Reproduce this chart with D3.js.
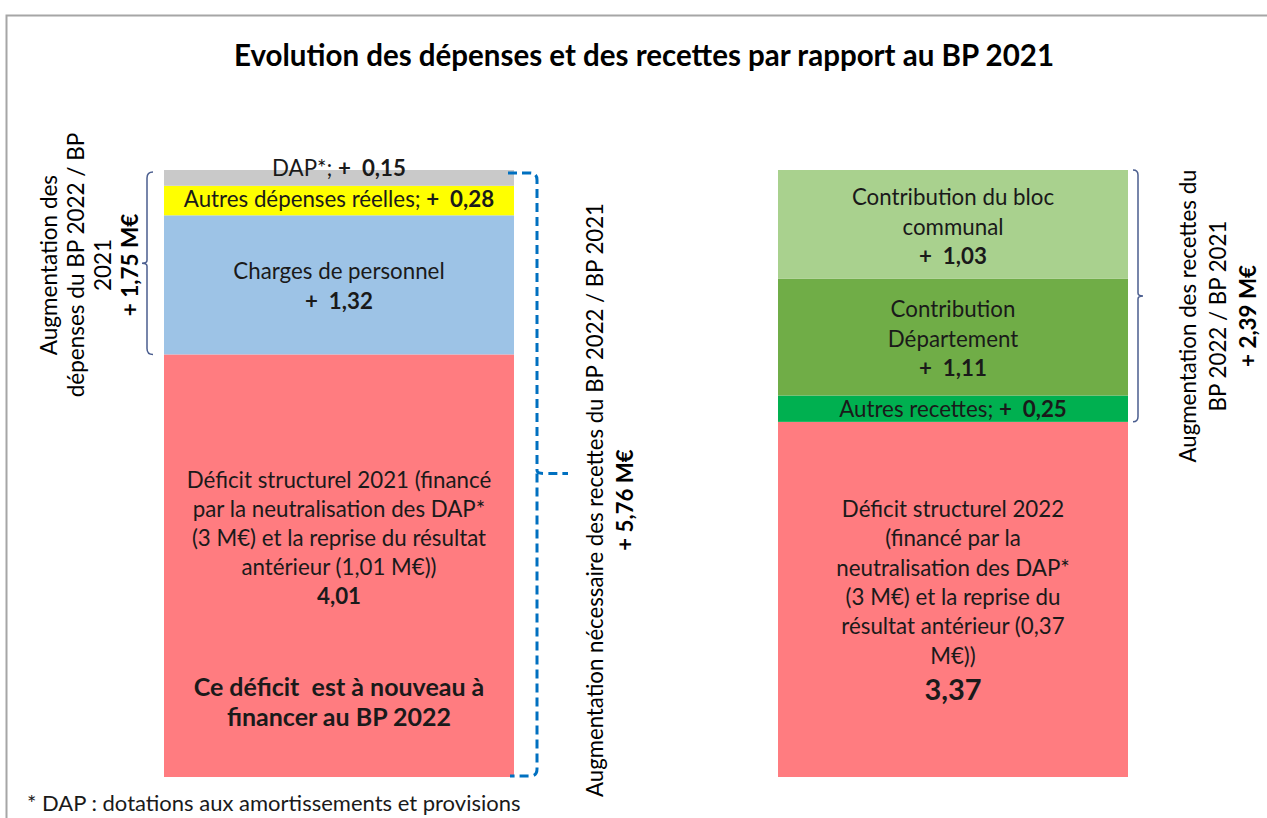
<!DOCTYPE html>
<html><head><meta charset="utf-8">
<script src="https://cdn.jsdelivr.net/npm/d3@7"></script>
<style>body{margin:0;background:#fff}svg{display:block}</style>
</head><body>
<svg id="c" width="1267" height="818"></svg>
<script>
// ---- data ----
const categories = ["Dépenses", "Recettes"];
const depensesNames = ["Déficit structurel 2021", "Charges de personnel", "Autres dépenses réelles", "DAP*"];
const depensesValues = [4.01, 1.32, 0.28, 0.15];
const recettesNames = ["Déficit structurel 2022", "Autres recettes", "Contribution Département", "Contribution du bloc communal"];
const recettesValues = [3.37, 0.25, 1.11, 1.03];
const depensesColors = ["#FF7C80", "#9DC3E6", "#FFFF00", "#C9C9C9"];
const recettesColors = ["#FF7C80", "#00B050", "#70AD47", "#A9D18E"];
const title = "Evolution des dépenses et des recettes par rapport  au BP 2021";
const footnote = "* DAP : dotations aux amortissements et provisions";
const depensesTotalLabel = ["Augmentation des", "dépenses du BP 2022 / BP", "2021"];
const depensesTotalValue = "+ 1,75 M€";
const besoinLabel = "Augmentation nécessaire des recettes du BP 2022 / BP 2021";
const besoinValue = "+ 5,76 M€";
const recettesTotalLabel = ["Augmentation des recettes du", "BP 2022 / BP 2021"];
const recettesTotalValue = "+ 2,39 M€";

const svg = d3.select("#c");
const FONT = "Lato, 'Open Sans', sans-serif";
const FS = 22.3;

// frame
svg.append("path").attr("d", "M6.5,818 V15.5 H1267").attr("fill", "none").attr("stroke", "#A6A6A6").attr("stroke-width", 2);

svg.append("text").attr("x", 644).attr("y", 66).attr("text-anchor", "middle")
  .attr("font-family", FONT).attr("font-weight", "bold").attr("font-size", 29.5).attr("fill", "#000").text(title);

const total = d3.sum(depensesValues);
const y = d3.scaleLinear().domain([0, total]).range([777, 170]);
const x = d3.scaleBand().domain(categories).range([164, 1128]).paddingInner(0.43).paddingOuter(0);

function stack(vals) { let c = 0; return vals.map(v => { const s = c; c += v; return [s, c]; }); }
const depS = stack(depensesValues), recS = stack(recettesValues);

const g = svg.append("g");
g.selectAll("rect.dep").data(depensesValues).join("rect")
  .attr("x", x("Dépenses")).attr("width", x.bandwidth())
  .attr("y", (d, i) => y(depS[i][1])).attr("height", (d, i) => y(depS[i][0]) - y(depS[i][1]))
  .attr("fill", (d, i) => depensesColors[i]);
g.selectAll("rect.rec").data(recettesValues).join("rect")
  .attr("x", x("Recettes")).attr("width", x.bandwidth())
  .attr("y", (d, i) => y(recS[i][1])).attr("height", (d, i) => y(recS[i][0]) - y(recS[i][1]))
  .attr("fill", (d, i) => recettesColors[i]);

const fmt = v => d3.format(".2f")(v).replace(".", ",");
const cxL = x("Dépenses") + x.bandwidth() / 2, cxR = x("Recettes") + x.bandwidth() / 2;

function label(cx, cyTop, lines, lh) {
  const t = svg.append("text").attr("font-family", FONT).attr("text-anchor", "middle").attr("fill", "#1a1a1a");
  lines.forEach((ln, k) => {
    const row = t.append("tspan").attr("x", cx).attr("y", cyTop + k * lh);
    const parts = Array.isArray(ln) ? ln : [ln];
    parts.forEach((p, j) => {
      const sp = j === 0 ? row : t.append("tspan");
      sp.attr("font-size", p.size || FS).attr("font-weight", p.bold ? "bold" : "normal").text(p.t);
    });
  });
  t.attr("xml:space", "preserve").style("white-space", "pre");
}

// Dépenses
label(cxL, 176, [[{t: "DAP*; "}, {t: "+  " + fmt(depensesValues[3]), bold: true}]], 29);
label(cxL, 207, [[{t: "Autres dépenses réelles; "}, {t: "+  " + fmt(depensesValues[2]), bold: true}]], 29);
label(cxL, 279, [{t: "Charges de personnel"}, {t: "+  " + fmt(depensesValues[1]), bold: true}], 30);
label(cxL, 488, [{t: "Déficit structurel 2021 (financé"}, {t: "par la neutralisation des DAP*"},
  {t: "(3 M€) et la reprise du résultat"}, {t: "antérieur (1,01 M€))"}, {t: fmt(depensesValues[0]), bold: true}], 29);
label(cxL, 696, [{t: "Ce déficit  est à nouveau à", bold: true, size: 25}, {t: "financer au BP 2022", bold: true, size: 25}], 30);

// Recettes
label(cxR, 205, [{t: "Contribution du bloc"}, {t: "communal"}, {t: "+  " + fmt(recettesValues[3]), bold: true}], 29.5);
label(cxR, 317, [{t: "Contribution"}, {t: "Département"}, {t: "+  " + fmt(recettesValues[2]), bold: true}], 29.5);
label(cxR, 417, [[{t: "Autres recettes; "}, {t: "+  " + fmt(recettesValues[1]), bold: true}]], 29);
label(cxR, 517, [{t: "Déficit structurel 2022"}, {t: "(financé par la"}, {t: "neutralisation des DAP*"},
  {t: "(3 M€) et la reprise du"}, {t: "résultat antérieur (0,37"}, {t: "M€))"}], 29.3);
label(cxR, 700, [{t: fmt(recettesValues[0]), bold: true, size: 29}], 30);

// braces
const BR = "#4B5E8F";
function brace(xv, y0, y1, dir, tipLen, r) {
  const ym = (y0 + y1) / 2, xo = xv - dir * r;
  return `M${xo},${y0} Q${xv},${y0} ${xv},${y0 + r} V${ym - 3} Q${xv},${ym} ${xv + dir * tipLen},${ym} Q${xv},${ym} ${xv},${ym + 3} V${y1 - r} Q${xv},${y1} ${xo},${y1}`;
}
const depTop = y(depS[3][1]), depPers = y(depS[0][1]);
svg.append("path").attr("d", brace(147, depTop + 2, depPers, -1, 5, 6)).attr("fill", "none").attr("stroke", BR).attr("stroke-width", 1.5);
const recTop = y(recS[3][1]), recDef = y(recS[0][1]);
svg.append("path").attr("d", brace(1138, recTop, recDef, 1, 5, 5)).attr("fill", "none").attr("stroke", BR).attr("stroke-width", 1.5);
const yB = y(0);
svg.append("path").attr("d", `M508,${depTop + 3} H530 Q537,${depTop + 3} 537,${depTop + 10} V${(depTop + yB) / 2 - 3} Q537,${(depTop + yB) / 2} 545,${(depTop + yB) / 2} H568 M537,${(depTop + yB) / 2} V${yB - 8} Q537,${yB - 1} 530,${yB - 1} H510`)
  .attr("fill", "none").attr("stroke", "#0070C0").attr("stroke-width", 3).attr("stroke-dasharray", "9,5");

// rotated side texts
function vtext(cx, cy, lines, lh, size) {
  const t = svg.append("text").attr("transform", `translate(${cx},${cy}) rotate(-90)`)
    .attr("font-family", FONT).attr("text-anchor", "middle").attr("fill", "#000");
  const n = lines.length;
  lines.forEach((ln, k) => {
    t.append("tspan").attr("x", 0).attr("y", (k - (n - 1) / 2) * lh + size * 0.35)
      .attr("font-size", ln.size || size).attr("font-weight", ln.bold ? "bold" : "normal").text(ln.t);
  });
}
vtext(90, 265, [...depensesTotalLabel.map(t => ({t})), {t: depensesTotalValue, bold: true}], 27, 22.5);
vtext(610, 500, [{t: besoinLabel}, {t: besoinValue, bold: true}], 30, 22.2);
vtext(1218, 316, [...recettesTotalLabel.map(t => ({t})), {t: recettesTotalValue, bold: true}], 30, 22.3);

svg.append("text").attr("x", 27).attr("y", 811).attr("font-family", FONT).attr("font-size", 22).attr("fill", "#1a1a1a").text(footnote);
</script>
</body></html>
